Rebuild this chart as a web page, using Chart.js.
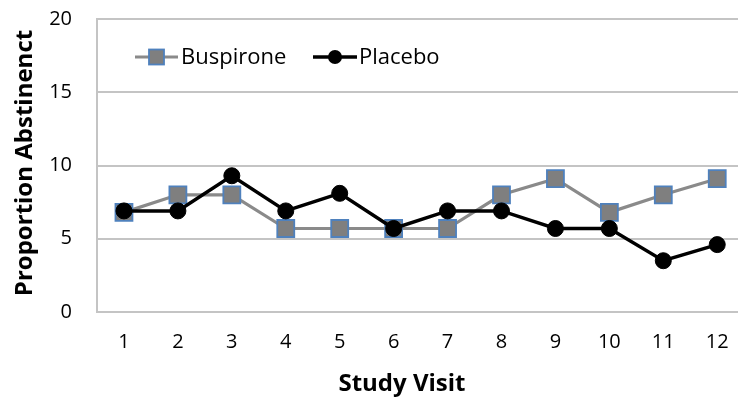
<!DOCTYPE html>
<html>
<head>
<meta charset="utf-8">
<script src="https://cdn.jsdelivr.net/npm/chart.js@4/dist/chart.umd.min.js"></script>
<style>
  html, body { margin: 0; padding: 0; background: #fff; overflow: hidden; }
  #wrap { position: relative; width: 738px; height: 406px; overflow: hidden; }
  #c { position: absolute; left: 0; top: -18px; }
</style>
</head>
<body>
<div id="wrap"><canvas id="c" width="758" height="424"></canvas></div>
<script>
// Study visits and proportion abstinent per arm
const visits = ['1', '2', '3', '4', '5', '6', '7', '8', '9', '10', '11', '12'];
const buspirone = [6.8, 8.0, 8.0, 5.7, 5.7, 5.7, 5.7, 8.0, 9.1, 6.8, 8.0, 9.1];
const placebo = [6.9, 6.9, 9.3, 6.9, 8.1, 5.7, 6.9, 6.9, 5.7, 5.7, 3.5, 4.6];
const yTicks = [0, 5, 10, 15, 20];
const xTitle = 'Study Visit';
const yTitle = 'Proportion Abstinenct';

const FONT = "'Open Sans', 'Liberation Sans', sans-serif";
const GRID = '#c4c4c4';
const INK = '#000';
const SHIFT = 18; // canvas sits this far above the page top

// Legend inside the plot area plus the two axis titles
const decorPlugin = {
  id: 'decor',
  afterDraw(chart) {
    const ctx = chart.ctx;
    const y = 57 + SHIFT;
    const items = [
      { x0: 135, x1: 178, tx: 181, text: 'Buspirone', ds: chart.data.datasets[0] },
      { x0: 313, x1: 357, tx: 359, text: 'Placebo', ds: chart.data.datasets[1] }
    ];
    ctx.save();
    items.forEach(it => {
      ctx.strokeStyle = it.ds.borderColor;
      ctx.lineWidth = it.ds.borderWidth;
      ctx.beginPath();
      ctx.moveTo(it.x0, y);
      ctx.lineTo(it.x1, y);
      ctx.stroke();
      const cx = (it.x0 + it.x1) / 2;
      ctx.fillStyle = it.ds.pointBackgroundColor;
      ctx.strokeStyle = it.ds.pointBorderColor;
      ctx.lineWidth = it.ds.pointBorderWidth;
      if (it.ds.pointStyle === 'rect') {
        const s = 15;
        ctx.fillRect(cx - s / 2, y - s / 2, s, s);
        ctx.strokeRect(cx - s / 2, y - s / 2, s, s);
      } else {
        ctx.beginPath();
        ctx.arc(cx, y, 7, 0, Math.PI * 2);
        ctx.fill();
      }
      ctx.fillStyle = INK;
      ctx.font = '22px ' + FONT;
      ctx.textBaseline = 'middle';
      ctx.textAlign = 'left';
      ctx.fillText(it.text, it.tx, y + 1);
    });

    ctx.fillStyle = INK;
    ctx.font = 'bold 24px ' + FONT;
    ctx.textAlign = 'center';
    ctx.textBaseline = 'middle';
    ctx.fillText(xTitle, 402, 384 + SHIFT);

    ctx.translate(25, 163 + SHIFT);
    ctx.rotate(-Math.PI / 2);
    ctx.fillText(yTitle, 0, 0);
    ctx.restore();
  }
};

new Chart(document.getElementById('c'), {
  type: 'line',
  data: {
    labels: visits,
    datasets: [
      {
        label: 'Buspirone',
        data: buspirone,
        order: 1,
        borderColor: '#8a8a8a',
        borderWidth: 3.2,
        pointStyle: 'rect',
        pointRadius: 12,
        pointBackgroundColor: '#7f7f7f',
        pointBorderColor: '#4f81bd',
        pointBorderWidth: 1.8,
        tension: 0
      },
      {
        label: 'Placebo',
        data: placebo,
        order: 0,
        borderColor: '#000000',
        borderWidth: 3.5,
        pointStyle: 'circle',
        pointRadius: 8,
        pointBackgroundColor: '#000000',
        pointBorderColor: '#000000',
        pointBorderWidth: 1,
        tension: 0
      }
    ]
  },
  options: {
    responsive: false,
    animation: false,
    layout: { padding: { top: 2, right: 1, bottom: 0, left: 0 } },
    plugins: { legend: { display: false }, tooltip: { enabled: false } },
    scales: {
      x: {
        type: 'category',
        offset: true,
        grid: { display: false, drawTicks: false },
        border: { display: true, color: GRID, width: 2 },
        ticks: { color: INK, font: { family: FONT, size: 20 }, padding: 18, maxRotation: 0 },
        afterFit(scale) { scale.height = 94; }
      },
      y: {
        min: 0,
        max: 20,
        afterBuildTicks(scale) { scale.ticks = yTicks.map(v => ({ value: v })); },
        grid: { color: GRID, lineWidth: 2, drawTicks: false },
        border: { display: true, color: GRID, width: 2 },
        ticks: { color: INK, font: { family: FONT, size: 20 }, padding: 25 },
        afterFit(scale) { scale.width = 97; }
      }
    }
  },
  plugins: [decorPlugin]
});
</script>
</body>
</html>
